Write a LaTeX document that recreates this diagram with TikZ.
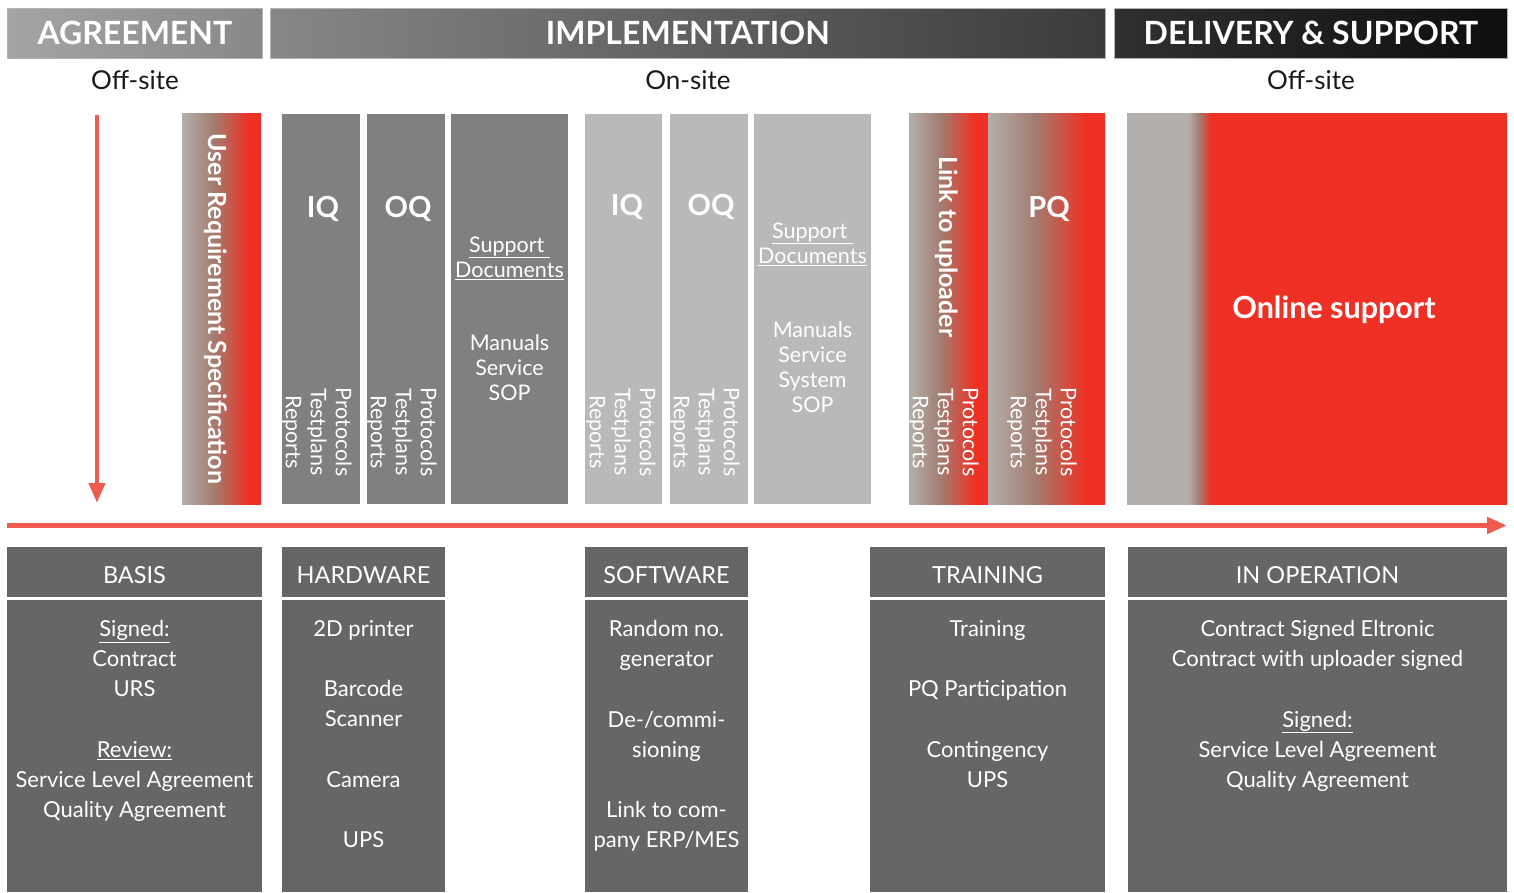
\documentclass[tikz,border=0pt]{standalone}
\usepackage{fontspec}
\setmainfont{Lato}
\usepackage{tikz}
\usetikzlibrary{arrows.meta, positioning}

\definecolor{urgray}{HTML}{B3AFAD}
\definecolor{urbrown}{HTML}{A37C70}
\definecolor{urred}{HTML}{EE3124}
\definecolor{darkcol}{HTML}{808080}
\definecolor{lightcol}{HTML}{B9B9B9}
\definecolor{boxgray}{HTML}{666666}
\definecolor{arrowred}{HTML}{EF5B4E}
\definecolor{agreeL}{HTML}{A4A4A7}
\definecolor{agreeR}{HTML}{88888B}
\definecolor{implL}{HTML}{878787}
\definecolor{implR}{HTML}{3B3B3B}
\definecolor{delivL}{HTML}{303030}
\definecolor{delivR}{HTML}{0E0E0E}

\pgfdeclarehorizontalshading{grayred}{100bp}{color(0bp)=(urgray); color(25bp)=(urgray); color(45bp)=(urbrown); color(67bp)=(urred); color(100bp)=(urred)}
\pgfdeclarehorizontalshading{onlinered}{100bp}{color(0bp)=(urgray); color(33bp)=(urgray); color(34.5bp)=(urbrown); color(36bp)=(urred); color(100bp)=(urred)}

\tikzset{
    phase/.style={rectangle, anchor=north west, draw=gray!60, line width=0.8pt, minimum height=50pt, inner sep=0pt, text=white, font=\fontsize{32}{36}\selectfont\bfseries},
    site/.style={font=\fontsize{26}{30}\selectfont, text=black!90},
    column/.style={rectangle, anchor=north west, minimum height=390pt, inner sep=0pt, outer sep=0pt},
    qlabel/.style={text=white, inner sep=0pt, text height=21pt, text depth=0pt, font=\fontsize{29}{32}\selectfont\bfseries},
    rotbold/.style={rotate=-90, text=white, inner sep=0pt, font=\fontsize{25}{29}\selectfont\bfseries},
    rotlist/.style={rotate=-90, align=center, text=white, inner sep=0pt, font=\fontsize{21.5}{25}\selectfont},
    doclist/.style={align=center, text=white, inner sep=0pt, font=\fontsize{21.5}{25}\selectfont},
    boxhead/.style={rectangle, anchor=north west, fill=boxgray, minimum height=50pt, inner sep=0pt, outer sep=0pt, text=white, text height=23pt, text depth=0pt, font=\fontsize{23.5}{28}\selectfont},
    boxbody/.style={rectangle, fill=boxgray, minimum height=292pt, inner sep=0pt, outer sep=0pt},
    bodytext/.style={align=center, text=white, inner sep=0pt, font=\fontsize{22}{30.2}\selectfont, execute at begin node=\strut},
    flow/.style={draw=arrowred, line width=5pt, -{Triangle[length=20pt, width=16pt]}}
}

\begin{document}
\begin{tikzpicture}[x=1pt, y=-1pt]
    \useasboundingbox (0,0) rectangle (1514,893);

    % phases
    \node (agree) [phase, minimum width=255pt, left color=agreeL, right color=agreeR] at (7,8) {AGREEMENT};
    \node (impl) [phase, minimum width=835pt, left color=implL, right color=implR] at (270,8) {IMPLEMENTATION};
    \node (deliv) [phase, minimum width=393pt, left color=delivL, right color=delivR] at (1114,8) {DELIVERY \& SUPPORT};
    \node (agreesite) [site, below=8pt of agree] {Off-site};
    \node (implsite) [site, below=8pt of impl] {On-site};
    \node (delivsite) [site, below=8pt of deliv] {Off-site};

    % time arrows
    \coordinate (downstart) at (97,115);
    \coordinate (downend) at (97,503);
    \coordinate (timestart) at (7,525.5);
    \coordinate (timeend) at (1507,525.5);
    \draw [flow, line width=4.5pt, -{Triangle[length=20pt, width=16pt]}] (downstart) -- (downend);
    \draw [flow] (timestart) -- (timeend);

    % columns
    \node (urs) [column, minimum width=79pt, shade, shading=grayred] at (182,114) {};
    \node (iqd) [column, minimum width=78pt, fill=darkcol] at (282,114) {};
    \node (oqd) [column, minimum width=78pt, fill=darkcol] at (367,114) {};
    \node (docd) [column, minimum width=117pt, fill=darkcol] at (451,114) {};
    \node (iql) [column, minimum width=77pt, fill=lightcol] at (585,114) {};
    \node (oql) [column, minimum width=78pt, fill=lightcol] at (670,114) {};
    \node (docl) [column, minimum width=117pt, fill=lightcol] at (754,114) {};
    \node (link) [column, minimum width=79pt, shade, shading=grayred] at (909,114) {};
    \node (pq) [column, minimum width=117pt, shade, shading=grayred] at (988,114) {};
    \node (online) [column, minimum width=380pt, shade, shading=onlinered] at (1127,114) {};

    \node (urstext) [rotbold] at (216,309) {User Requirement Specification};
    \node (iqdlabel) [qlabel] at (323,207) {IQ};
    \node (oqdlabel) [qlabel] at (408,207) {OQ};
    \node (iqllabel) [qlabel] at (627,205) {IQ};
    \node (oqllabel) [qlabel] at (711,205) {OQ};
    \node (pqlabel) [qlabel] at (1049,207) {PQ};
    \node (iqdtext) [rotlist] at (317,432) {Protocols\\Testplans\\Reports};
    \node (oqdtext) [rotlist] at (402,432) {Protocols\\Testplans\\Reports};
    \node (iqltext) [rotlist] at (621,432) {Protocols\\Testplans\\Reports};
    \node (oqltext) [rotlist] at (705,432) {Protocols\\Testplans\\Reports};
    \node (linktext) [rotlist] at (944,432) {Protocols\\Testplans\\Reports};
    \node (pqtext) [rotlist] at (1042,432) {Protocols\\Testplans\\Reports};
    \node (linkbold) [rotbold] at (947,247) {Link to uploader};
    \node (docdtext) [doclist] at (509.5,318.5) {\underline{Support\ }\\\underline{Documents}\\[48pt]Manuals\\Service\\SOP};
    \node (docltext) [doclist] at (812.5,317.5) {\underline{Support\ }\\\underline{Documents}\\[49pt]Manuals\\Service\\System\\SOP};
    \node (onlinetext) [qlabel, font=\fontsize{30.5}{34}\selectfont\bfseries, text height=22pt] at (1334,307) {Online support};

    % boxes
    \node (basishead) [boxhead, minimum width=255pt] at (7,547) {BASIS};
    \node (hardhead) [boxhead, minimum width=163pt] at (282,547) {HARDWARE};
    \node (softhead) [boxhead, minimum width=163pt] at (585,547) {SOFTWARE};
    \node (trainhead) [boxhead, minimum width=235pt] at (870,547) {TRAINING};
    \node (ophead) [boxhead, minimum width=379pt] at (1128,547) {IN OPERATION};
    \node (basisbody) [boxbody, minimum width=255pt, below=3pt of basishead] {};
    \node (hardbody) [boxbody, minimum width=163pt, below=3pt of hardhead] {};
    \node (softbody) [boxbody, minimum width=163pt, below=3pt of softhead] {};
    \node (trainbody) [boxbody, minimum width=235pt, below=3pt of trainhead] {};
    \node (opbody) [boxbody, minimum width=379pt, below=3pt of ophead] {};

    \node (basistext) [bodytext, below=20pt of basisbody.north] {\underline{Signed:}\\Contract\\URS\\[30.2pt]\underline{Review:}\\Service Level Agreement\\Quality Agreement};
    \node (hardtext) [bodytext, below=20pt of hardbody.north] {2D printer\\[30.2pt]Barcode\\Scanner\\[30.2pt]Camera\\[30.2pt]UPS};
    \node (softtext) [bodytext, below=20pt of softbody.north] {Random no.\\generator\\[30.2pt]De-/commi-\\sioning\\[30.2pt]Link to com-\\pany ERP/MES};
    \node (traintext) [bodytext, below=20pt of trainbody.north] {Training\\[30.2pt]PQ Participation\\[30.2pt]Contingency\\UPS};
    \node (optext) [bodytext, below=20pt of opbody.north] {Contract Signed Eltronic\\Contract with uploader signed\\[30.2pt]\underline{Signed:}\\Service Level Agreement\\Quality Agreement};
\end{tikzpicture}
\end{document}
